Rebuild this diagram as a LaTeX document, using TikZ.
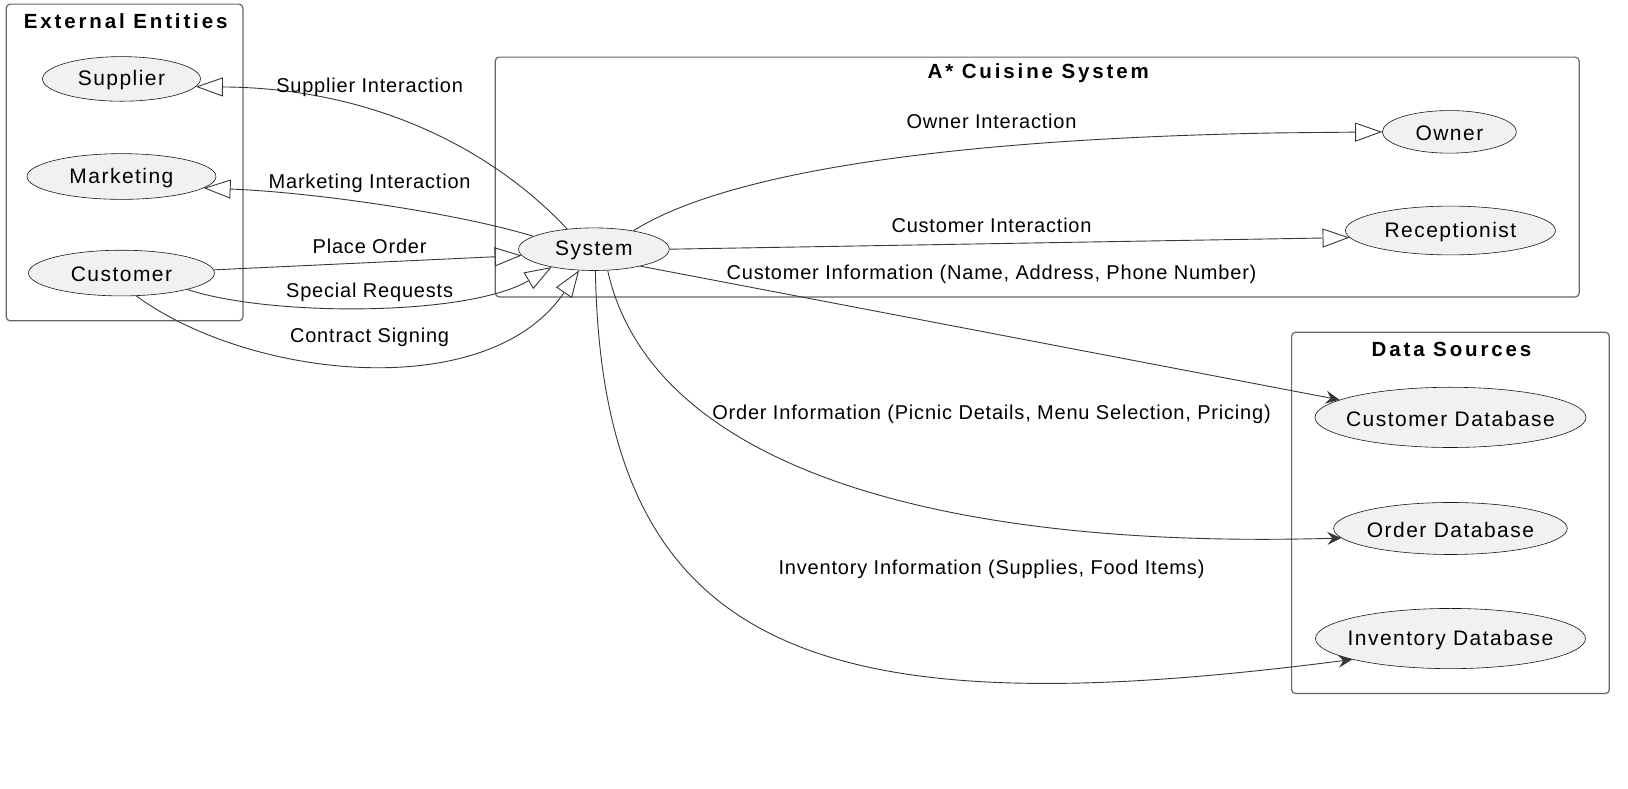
\documentclass[tikz,border=0pt]{standalone}
\usepackage{fontspec}
\setmainfont{Liberation Sans}
\newfontfamily\nodefont[LetterSpace=7]{Liberation Sans}
\newfontfamily\lblfont[LetterSpace=4]{Liberation Sans}
\newfontfamily\titlefont[LetterSpace=14]{Liberation Sans}
\usetikzlibrary{shapes.geometric,arrows.meta}
\definecolor{entfill}{HTML}{F1F1F1}
\definecolor{entc}{HTML}{181818}
\definecolor{linec}{HTML}{383838}
\definecolor{framec}{HTML}{666666}
\tikzset{
  nlbl/.style={font=\nodefont\fontsize{21}{25}\selectfont, inner sep=0pt, yshift=-1.5pt},
  ent/.style={ellipse, draw=entc, fill=entfill, line width=0.6pt, inner sep=0pt,
    label={[nlbl]center:#1}},
  frame/.style={rectangle, draw=framec, line width=1.2pt, rounded corners=4pt, inner sep=0pt},
  ttl/.style={font=\titlefont\bfseries\fontsize{20.5}{24}\selectfont, inner sep=0pt},
  elbl/.style={font=\lblfont\fontsize{20}{24}\selectfont, inner sep=0pt},
  conn/.style={draw=linec, line width=0.9pt},
  gen/.style={conn, -{Triangle[open, length=27pt, width=19pt]}},
  flow/.style={conn, -{Stealth[length=14pt, width=13pt, inset=5pt]}},
}
\begin{document}
\begin{tikzpicture}[x=1.0383pt, y=-1.0383pt]
\useasboundingbox[fill=white] (0,0) rectangle (1568,759);
% frames
\node[frame, minimum width=236.7pt, minimum height=316.7pt] (extbox) at (120,156.5) {};
\node[ttl] (exttitle) at (121,20.5) {External Entities};
\node[frame, minimum width=1084pt, minimum height=239.8pt] (sysbox) at (999,170.5) {};
\node[ttl] (systitle) at (1000,70.5) {A* Cuisine System};
\node[frame, minimum width=317.7pt, minimum height=361.3pt] (databox) at (1397,494) {};
\node[ttl] (datatitle) at (1398,336.5) {Data Sources};
% entities
\node[ent=Supplier, minimum width=158pt, minimum height=44.6pt] (sup) at (117,76) {};
\node[ent=Marketing, minimum width=189pt, minimum height=45.7pt] (mkt) at (117,170) {};
\node[ent=Customer, minimum width=186pt, minimum height=45.7pt] (cust) at (117,263) {};
\node[ent=System, minimum width=150.6pt, minimum height=42.6pt] (sys) at (572,240) {};
\node[ent=Owner, minimum width=134pt, minimum height=42.6pt] (own) at (1396,127) {};
\node[ent=Receptionist, minimum width=210pt, minimum height=48.8pt] (rec) at (1397,222) {};
\node[ent=Customer Database, minimum width=271pt, minimum height=60.2pt] (cdb) at (1397,402) {};
\node[ent=Order Database, minimum width=233.6pt, minimum height=52pt] (odb) at (1397,509) {};
\node[ent=Inventory Database, minimum width=270pt, minimum height=60.2pt] (idb) at (1397,615) {};
% connectors
\draw[gen] (sys.143) .. controls (490,160) and (380,85) .. (sup.-6);
\draw[gen] (sys.168) .. controls (440,205) and (300,185) .. (mkt.-8);
\draw[gen] (cust.2) -- (sys.185);
\draw[gen] (cust.-14) .. controls (260,305) and (450,305) .. (sys.203);
\draw[gen] (cust.-57) .. controls (240,365) and (470,390) .. (sys.235);
\draw[gen] (sys.25) .. controls (680,178) and (850,135) .. (1230,128) -- (own.west);
\draw[gen] (sys.east) -- (rec.184);
\draw[flow] (sys.-20) -- (cdb.171);
\draw[flow] (sys.-57) .. controls (625,440) and (880,530) .. (odb.185.6);
\draw[flow] (sys.-86) .. controls (580,640) and (800,700) .. (idb.192);
% labels
\node[elbl] (l1) at (356,84) {Supplier Interaction};
\node[elbl] (l2) at (356,177) {Marketing Interaction};
\node[elbl] (l3) at (356,237) {Place Order};
\node[elbl] (l4) at (356,282) {Special Requests};
\node[elbl] (l5) at (356,325) {Contract Signing};
\node[elbl] (l6) at (955,117) {Owner Interaction};
\node[elbl] (l7) at (955,217) {Customer Interaction};
\node[elbl] (l8) at (955,264) {Customer Information (Name, Address, Phone Number)};
\node[elbl] (l9) at (955,399) {Order Information (Picnic Details, Menu Selection, Pricing)};
\node[elbl] (l10) at (955,548) {Inventory Information (Supplies, Food Items)};
\end{tikzpicture}
\end{document}
